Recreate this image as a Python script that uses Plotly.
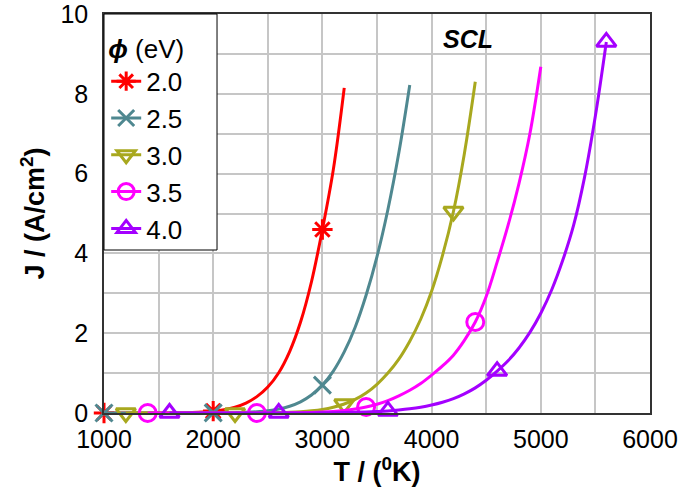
import plotly.graph_objects as go

# ---- data ----
T_20 = [1000, 1100, 1200, 1300, 1400, 1500, 1600, 1700, 1800, 1900, 2000, 2100, 2200,
        2300, 2400, 2500, 2600, 2700, 2800, 2900, 3000, 3100, 3200]
J_20 = [0, 0, 0, 0, 0, 0.001, 0.003, 0.006, 0.013, 0.025, 0.047, 0.084, 0.147,
        0.25, 0.41, 0.65, 1.01, 1.54, 2.28, 3.29, 4.6, 6.1, 8.15]

T_25 = [1000, 1100, 1200, 1300, 1400, 1500, 1600, 1700, 1800, 1900, 2000, 2100, 2200,
        2300, 2400, 2500, 2600, 2700, 2800, 2900, 3000, 3100, 3200, 3300, 3400, 3500,
        3600, 3700, 3800]
J_25 = [0, 0, 0, 0, 0, 0, 0, 0, 0, 0.001, 0.002, 0.004, 0.009,
        0.017, 0.032, 0.057, 0.1, 0.17, 0.28, 0.45, 0.7, 1.05, 1.53, 2.15, 2.95, 3.92,
        5.1, 6.52, 8.22]

T_30 = [1200, 1300, 1400, 1500, 1600, 1700, 1800, 1900, 2000, 2100, 2200, 2300, 2400,
        2500, 2600, 2700, 2800, 2900, 3000, 3100, 3200, 3300, 3400, 3500, 3600, 3700,
        3800, 3900, 4000, 4100, 4200, 4300, 4400]
J_30 = [0, 0, 0, 0, 0, 0, 0, 0, 0, 0, 0, 0.001, 0.002,
        0.005, 0.01, 0.018, 0.032, 0.055, 0.09, 0.145, 0.225, 0.34, 0.5, 0.72, 1.0, 1.35,
        1.8, 2.35, 3.05, 3.95, 5.05, 6.5, 8.3]

T_35 = [1400, 1500, 1600, 1700, 1800, 1900, 2000, 2100, 2200, 2300, 2400, 2500, 2600,
        2700, 2800, 2900, 3000, 3100, 3200, 3300, 3400, 3500, 3600, 3700, 3800, 3900,
        4000, 4100, 4200, 4300, 4400, 4500, 4600, 4700, 4800, 4900, 5000]
J_35 = [0, 0, 0, 0, 0, 0, 0, 0, 0, 0, 0, 0.001, 0.002,
        0.004, 0.008, 0.014, 0.024, 0.04, 0.065, 0.1, 0.15, 0.22, 0.31, 0.43, 0.57, 0.74,
        0.95, 1.18, 1.45, 1.82, 2.28, 2.92, 3.78, 4.7, 5.75, 7.0, 8.68]

T_40 = [1600, 1700, 1800, 1900, 2000, 2100, 2200, 2300, 2400, 2500, 2600, 2700, 2800,
        2900, 3000, 3100, 3200, 3300, 3400, 3500, 3600, 3700, 3800, 3900, 4000, 4100,
        4200, 4300, 4400, 4500, 4600, 4700, 4800, 4900, 5000, 5100, 5200, 5300, 5400,
        5500, 5600]
J_40 = [0, 0, 0, 0, 0, 0, 0, 0, 0, 0, 0, 0, 0.001,
        0.002, 0.004, 0.006, 0.01, 0.016, 0.024, 0.036, 0.052, 0.075, 0.105, 0.145, 0.2, 0.27,
        0.36, 0.48, 0.63, 0.82, 1.05, 1.31, 1.63, 2.02, 2.5, 3.09, 3.82, 4.7, 5.9,
        7.45, 9.3]

x_ticks = [1000, 2000, 3000, 4000, 5000, 6000]
y_ticks = [0, 2, 4, 6, 8, 10]

series_names = ["2.0", "2.5", "3.0", "3.5", "4.0"]
series_T = [T_20, T_25, T_30, T_35, T_40]
series_J = [J_20, J_25, J_30, J_35, J_40]
colors = ["#ff0000", "#4f8890", "#a8a81e", "#ff00ff", "#a400ff"]
symbols = ["asterisk-open", "x-thin-open", "triangle-down-open", "circle-open", "triangle-up-open"]
marker_every = 10  # a marker every 10th point (every 1000 K)

fig = go.Figure()
for name, T, J, c, s in zip(series_names, series_T, series_J, colors, symbols):
    fig.add_trace(go.Scatter(x=T, y=J, mode="lines", line=dict(color=c, width=3, shape="spline", smoothing=1.0),
                             showlegend=False, hoverinfo="skip"))
    fig.add_trace(go.Scatter(x=T[::marker_every], y=J[::marker_every], mode="markers",
                             marker=dict(symbol=s, size=17, color=c, line=dict(color=c, width=3)),
                             cliponaxis=False, showlegend=False))
    fig.add_trace(go.Scatter(x=[None], y=[None], mode="lines+markers", name=name,
                             line=dict(color=c, width=3),
                             marker=dict(symbol=s, size=22, color=c, line=dict(color=c, width=3))))

grid = "#c6c6c6"
fig.update_layout(
    width=679, height=493,
    margin=dict(l=104, r=29, t=14, b=80),
    paper_bgcolor="white", plot_bgcolor="white",
    font=dict(family="Liberation Sans, Arial, sans-serif", size=24, color="black"),
    xaxis=dict(range=[1000, 6000], tickvals=x_ticks, showgrid=True, gridcolor=grid, gridwidth=2,
               minor=dict(dtick=500, showgrid=True, gridcolor=grid, gridwidth=2),
               showline=True, linecolor="#333333", linewidth=1.5, mirror=True, zeroline=False,
               automargin=False, ticklabeloverflow="allow",
               ticks="outside", ticklen=3, tickcolor="rgba(0,0,0,0)", tickfont=dict(size=25),
               title=dict(text="<b>T / (<sup>0</sup>K)</b>", font=dict(size=27), standoff=0)),
    yaxis=dict(range=[0, 10], tickvals=y_ticks, showgrid=True, gridcolor=grid, gridwidth=2,
               minor=dict(dtick=1, showgrid=True, gridcolor=grid, gridwidth=2),
               showline=True, linecolor="#333333", linewidth=1.5, mirror=True, zeroline=False,
               automargin=False, ticklabeloverflow="allow",
               ticks="outside", ticklen=9, tickcolor="rgba(0,0,0,0)", tickfont=dict(size=25),
               title=dict(text="<b>J / (A/cm<sup>2</sup>)</b>", font=dict(size=27), standoff=8)),
    legend=dict(x=0.004, y=0.975, xanchor="left", yanchor="top", bgcolor="rgba(0,0,0,0)",
                borderwidth=0, font=dict(size=26), itemwidth=30,
                title=dict(text="<b><i>ϕ</i></b> (eV)", font=dict(size=26))),
    shapes=[dict(type="rect", xref="paper", yref="paper", x0=0, x1=0.207, y0=0.4085, y1=1,
                 line=dict(color="black", width=1), fillcolor="white", layer="above")],
    annotations=[dict(x=4330, y=9.37, xref="x", yref="y", text="<b><i>SCL</i></b>",
                      showarrow=False, font=dict(size=25, color="black"))],
)

fig.write_html("out.html", config={"displayModeBar": False},
               post_script="document.body.style.margin='0px';")
